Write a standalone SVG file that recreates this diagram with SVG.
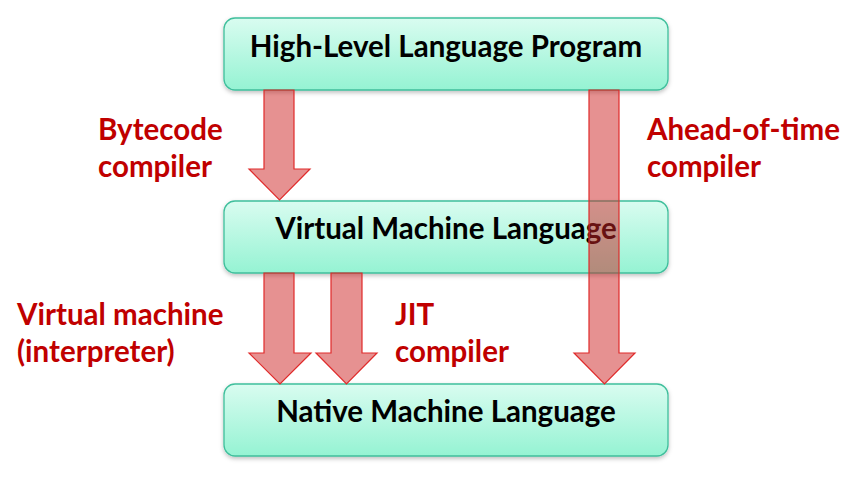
<svg xmlns="http://www.w3.org/2000/svg" width="860" height="479" viewBox="0 0 860 479">
<defs>
<linearGradient id="boxg" x1="0" y1="0" x2="0" y2="1">
<stop offset="0" stop-color="#d9fcf0"/>
<stop offset="1" stop-color="#95f3d3"/>
</linearGradient>
<filter id="sh" x="-5%" y="-20%" width="110%" height="150%">
<feDropShadow dx="0" dy="2" stdDeviation="2" flood-color="#000" flood-opacity="0.25"/>
</filter>
<style>
.box{fill:url(#boxg);stroke:#3fbf9c;stroke-width:1.3;filter:url(#sh)}
.title{font-family:Lato,"Liberation Sans",sans-serif;font-weight:bold;font-size:29.5px;fill:#000;text-anchor:middle}
.lbl{font-family:Lato,"Liberation Sans",sans-serif;font-weight:bold;font-size:29.5px;fill:#c00000}
.arr{fill:rgba(205,35,35,0.5);stroke:#e02a2a;stroke-width:1.2;stroke-linejoin:miter}
</style>
</defs>
<rect width="860" height="479" fill="#fff"/>
<g id="high-level">
<rect class="box" x="224" y="18" width="444" height="72" rx="11"/>
<text class="title" x="446" y="57">High-Level Language Program</text>
</g>
<g id="virtual-machine-language">
<rect class="box" x="224" y="201" width="444" height="72" rx="11"/>
<text class="title" x="446" y="239">Virtual Machine Language</text>
</g>
<g id="native-machine-language">
<rect class="box" x="224" y="384" width="444" height="72" rx="11"/>
<text class="title" x="446" y="422">Native Machine Language</text>
</g>
<g id="connectors">
<polygon class="arr" points="264,90 294,90 294,169 310,169 279.5,200 249,169 264,169"/>
<polygon class="arr" points="264,273 294,273 294,353 311,353 280,384 249,353 264,353"/>
<polygon class="arr" points="331,273 362,273 362,353 377,353 346.5,384 316,353 331,353"/>
<polygon class="arr" points="589,90 619,90 619,353 635,353 604.5,384 574,353 589,353"/>
</g>
<g id="labels">
<text class="lbl" x="98" y="140">Bytecode</text>
<text class="lbl" x="98" y="177">compiler</text>
<text class="lbl" x="647" y="140">Ahead-of-time</text>
<text class="lbl" x="647" y="177">compiler</text>
<text class="lbl" x="17" y="325">Virtual machine</text>
<text class="lbl" x="17" y="362">(interpreter)</text>
<text class="lbl" x="395" y="325">JIT</text>
<text class="lbl" x="395" y="362">compiler</text>
</g>
</svg>
